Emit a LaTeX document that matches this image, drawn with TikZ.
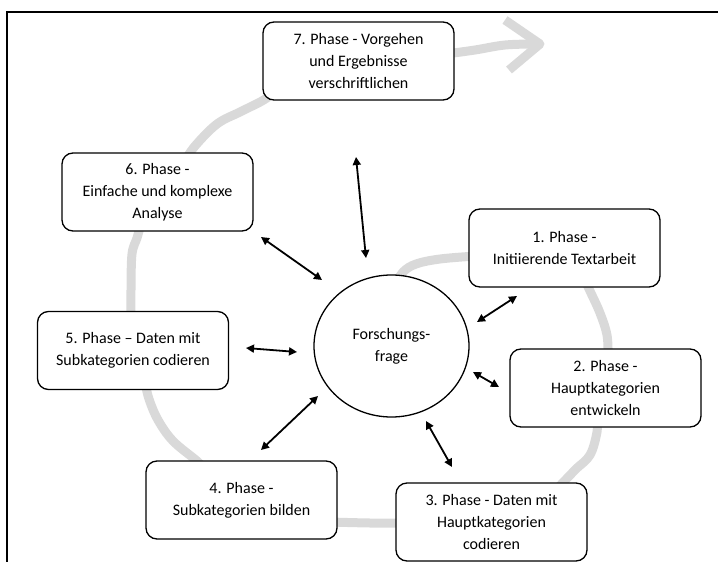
\documentclass[tikz,border=0pt]{standalone}
\usepackage{fontspec}
\setmainfont{Carlito}
\usetikzlibrary{arrows.meta,shapes.geometric}
\tikzset{
  phasebox/.style={draw=black, line width=1.3pt, fill=white, rounded corners=11pt,
    minimum width=191pt, minimum height=78pt, align=center, inner sep=2pt,
    font=\fontsize{16}{22}\selectfont},
  focus/.style={draw=black, line width=1.3pt, fill=white, ellipse,
    minimum width=155pt, minimum height=142pt, inner sep=0pt, align=center,
    font=\fontsize{16}{22}\selectfont},
  flow/.style={draw=gray!30, line width=9pt, line cap=butt, line join=round},
  link/.style={draw=black, line width=1.8pt,
    {Triangle[length=8pt,width=8pt]}-{Triangle[length=8pt,width=8pt]}},
  frame/.style={draw=black, line width=1.6pt}
}
\begin{document}
\begin{tikzpicture}[x=1pt,y=-1pt]
\useasboundingbox (0,0) rectangle (718,562);
% frame
\draw[frame] (7,562) -- (7,12) -- (718,12);
% gray flow path (behind the nodes)
\draw[flow] plot[smooth,tension=0.6] coordinates {(396,284) (403,272) (416,264) (440,259) (476,256)};
\draw[flow] plot[smooth,tension=0.6] coordinates {(584,278) (590,291) (600,313) (607,335) (608,356)};
\draw[flow] plot[smooth,tension=0.6] coordinates {(597,418) (597,432) (590,455) (575,470) (554,492)};
\draw[flow] plot[smooth,tension=0.6] coordinates {(404,523) (370,523) (330,522)};
\draw[flow] plot[smooth,tension=0.6] coordinates {(204,469) (197,461) (173,441) (158,420) (149,399) (145,382)};
\draw[flow] plot[smooth,tension=0.6] coordinates {(131,320) (131,290) (132,254) (137,238) (141,224)};
\draw[flow] plot[smooth,tension=0.6] coordinates {(185,161) (195,146) (217,124) (240,112) (262,101) (272,94)};
\draw[flow] plot[smooth,tension=0.6] coordinates {(446,54) (475,50) (505,45) (536,44)};
\draw[flow] (505,20) -- (540,44) -- (509,70);
% nodes
\node[phasebox] (p7) at (358.5,61) {7. Phase - Vorgehen\\und Ergebnisse\\verschriftlichen};
\node[phasebox] (p6) at (157.5,192) {6. Phase -\\Einfache und komplexe\\Analyse};
\node[phasebox] (p1) at (564.5,248) {1. Phase -\\Initiierende Textarbeit};
\node[phasebox] (p5) at (133,350.5) {5. Phase – Daten mit\\Subkategorien codieren};
\node[phasebox] (p2) at (605.5,388) {2. Phase -\\Hauptkategorien\\entwickeln};
\node[phasebox] (p4) at (241.5,500) {4. Phase -\\Subkategorien bilden};
\node[phasebox] (p3) at (491.5,522) {3. Phase - Daten mit\\Hauptkategorien\\codieren};
\node[focus] (q) at (391.5,346) {Forschungs-\\frage};
% arrow end points
\coordinate (a7o) at (356,157);  \coordinate (a7i) at (366,258);
\coordinate (a6o) at (261,237);  \coordinate (a6i) at (322,280);
\coordinate (a1o) at (517,296);  \coordinate (a1i) at (477,322);
\coordinate (a5o) at (246,348);  \coordinate (a5i) at (297,352);
\coordinate (a2o) at (499,387);  \coordinate (a2i) at (473,372);
\coordinate (a4o) at (261,450);  \coordinate (a4i) at (318,396);
\coordinate (a3o) at (452,467);  \coordinate (a3i) at (426,421);
\draw[link] (a7o) -- (a7i);
\draw[link] (a6o) -- (a6i);
\draw[link] (a1o) -- (a1i);
\draw[link] (a5o) -- (a5i);
\draw[link] (a2o) -- (a2i);
\draw[link] (a4o) -- (a4i);
\draw[link] (a3o) -- (a3i);
\end{tikzpicture}
\end{document}
